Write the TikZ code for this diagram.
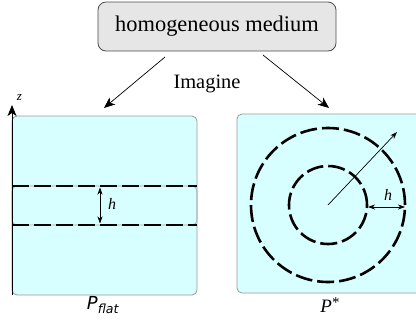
\documentclass[tikz,border=0pt]{standalone}
\usepackage{fontspec}
\setmainfont{Liberation Serif}
\setsansfont{DejaVu Sans}
\usetikzlibrary{arrows.meta}
\definecolor{panelfill}{HTML}{D8FFFF}
\definecolor{boxfill}{HTML}{E6E6E6}
\tikzset{
  panel/.style={draw=gray!80, line width=0.8bp, fill=panelfill, rounded corners=5bp, minimum width=185bp, minimum height=179bp, inner sep=0pt},
  topbox/.style={draw=black!70, line width=0.8bp, fill=boxfill, rounded corners=8bp, minimum width=238bp, minimum height=49bp, inner sep=0pt, font=\fontsize{22.5}{26}\selectfont},
  bigarrow/.style={-{Stealth[length=11bp, width=9bp, inset=3bp]}, line width=0.7bp},
  smallarrow/.style={-{Stealth[length=7bp, width=5bp, inset=2bp]}, line width=0.7bp},
  dblarrow/.style={{Stealth[length=7bp, width=5bp, inset=2bp]}-{Stealth[length=7bp, width=5bp, inset=2bp]}, line width=0.7bp},
  dashline/.style={line width=2.6bp, dash pattern=on 17bp off 5bp},
  lbl/.style={inner sep=0pt},
}
\begin{document}
\begin{tikzpicture}[x=1bp, y=-1bp]
\useasboundingbox (0,0) rectangle (416,322);
\begin{scope}
\clip (0,0) rectangle (416,322);
% top box
\node[topbox] (hm) at (217,26.5) {homogeneous medium};
% panels
\node[panel] (pl) at (104.5,205.5) {};
\node[panel] (pr) at (329.5,203.5) {};
% arrows from top box
\coordinate (a1s) at (165,57);
\coordinate (a1e) at (104,108);
\coordinate (a2s) at (263,55);
\coordinate (a2e) at (329,108);
\draw[bigarrow] (a1s) -- (a1e);
\draw[bigarrow] (a2s) -- (a2e);
\node[lbl, font=\fontsize{20.5}{24}\selectfont] (im) at (207,84) {Imagine};
% left panel
\node[draw=gray!70, line width=0.6bp, rounded corners=5bp, minimum width=185bp, minimum height=39bp, inner sep=0pt] (strip) at (104.5,205.5) {};
\coordinate (zb) at (12,295);
\coordinate (zt) at (12,105);
\draw[bigarrow, line width=0.9bp] (zb) -- (zt);
\node[lbl, font=\fontsize{13}{15}\selectfont\itshape] (zl) at (19.5,97.5) {z};
\coordinate (d1a) at (12,186);
\coordinate (d1b) at (197,186);
\coordinate (d2a) at (12,225);
\coordinate (d2b) at (197,225);
\draw[dashline] (d1a) -- (d1b);
\draw[dashline] (d2a) -- (d2b);
\coordinate (h1a) at (100,187.5);
\coordinate (h1b) at (100,223.5);
\draw[dblarrow] (h1a) -- (h1b);
\node[lbl, font=\fontsize{16}{18}\selectfont\itshape] (hl1) at (112,204) {h};
\node[lbl, font=\fontsize{18}{20}\selectfont\sffamily\itshape] (pflat) at (103,305) {P\textsubscript{flat}};
% right panel
\coordinate (c) at (328,205);
\node[draw, circle, dashline, minimum size=154bp, inner sep=0pt] (outer) at (c) {};
\node[draw, circle, dashline, minimum size=78bp, inner sep=0pt] (inner) at (c) {};
\coordinate (re) at (397,132);
\draw[smallarrow] (c) -- (re);
\coordinate (h2a) at (368,207);
\coordinate (h2b) at (405,207);
\draw[dblarrow] (h2a) -- (h2b);
\node[lbl, font=\fontsize{16}{18}\selectfont\itshape] (hl2) at (388,195) {h};
\node[lbl, font=\fontsize{19}{21}\selectfont\itshape] (pstar) at (330,305) {P\raisebox{0.5ex}{\fontsize{15}{17}\selectfont\upshape *}};
\end{scope}
\end{tikzpicture}
\end{document}
